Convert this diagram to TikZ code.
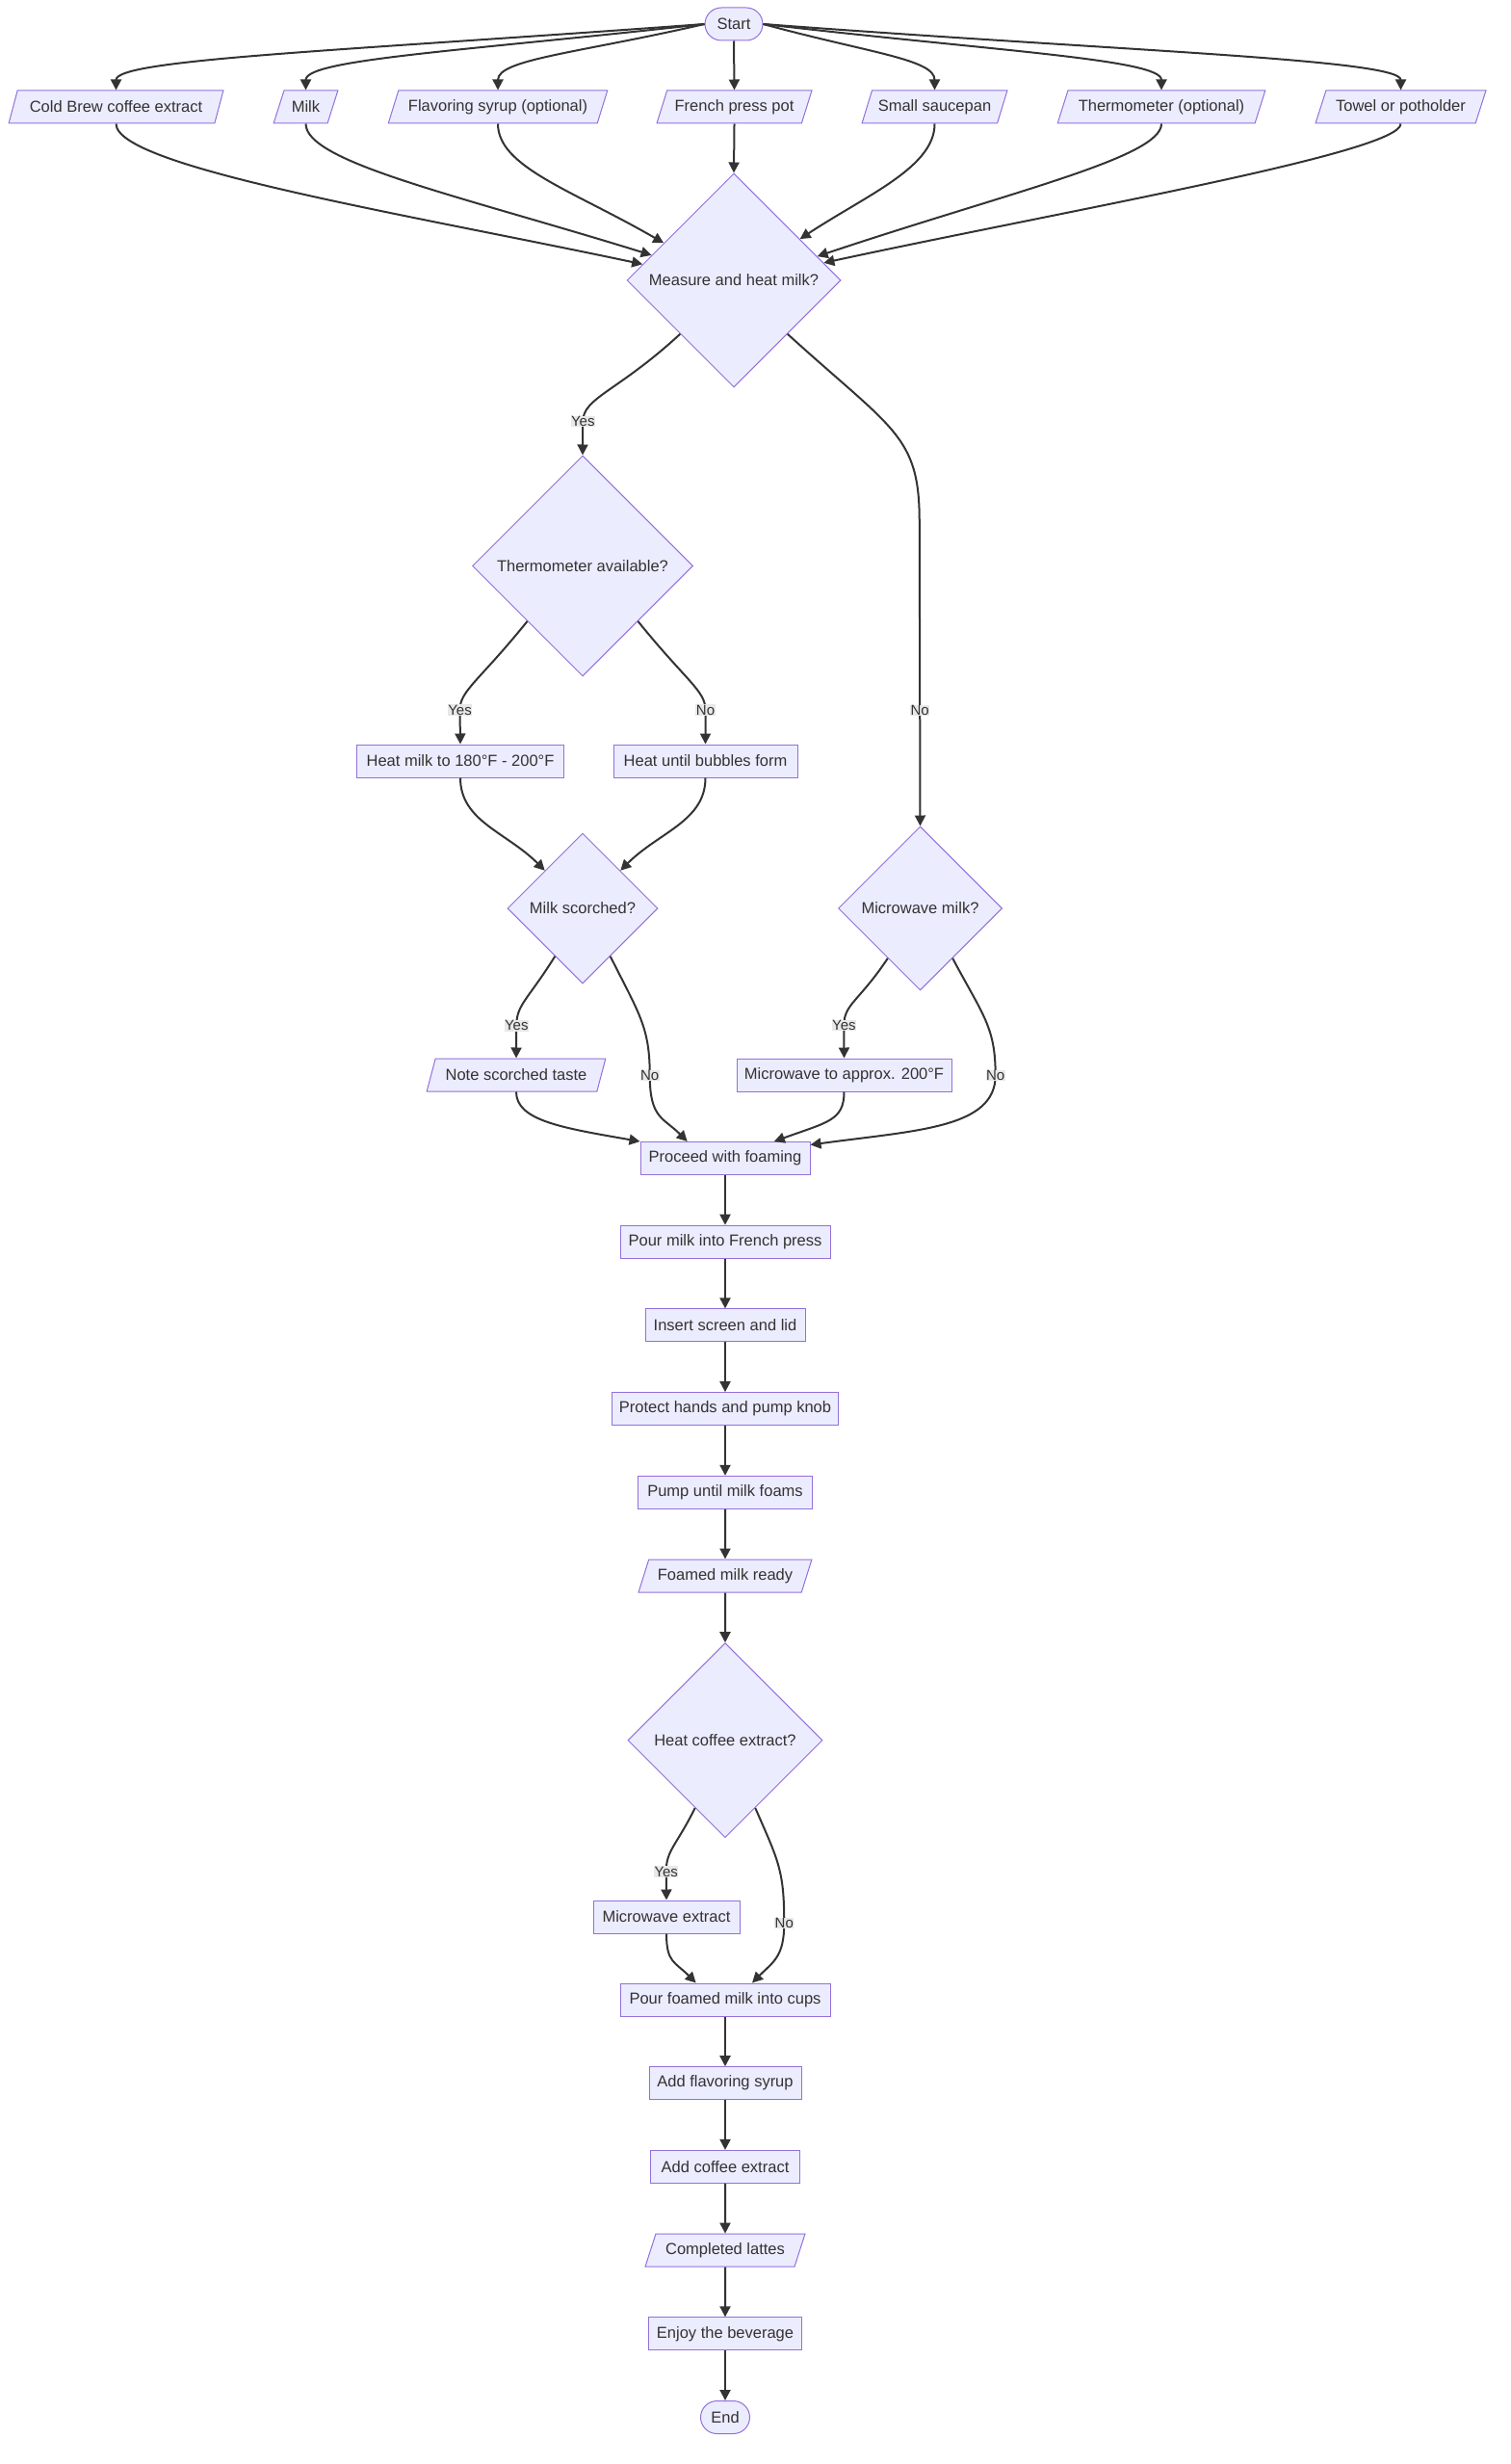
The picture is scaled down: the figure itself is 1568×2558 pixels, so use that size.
\documentclass[tikz,border=0pt]{standalone}
\usepackage{fontspec}
\setmainfont{Liberation Sans}
\usepackage{tikz}
\usetikzlibrary{positioning}
\usetikzlibrary{shapes.geometric}
\usetikzlibrary{arrows.meta}

\definecolor{boxfill}{HTML}{ECECFF}
\definecolor{boxline}{HTML}{9370DB}
\definecolor{ink}{HTML}{333333}
\definecolor{lblfill}{HTML}{E8E8E8}

\tikzset{
	base/.style={draw=boxline, fill=boxfill, line width=1pt, text=ink, font=\fontsize{16.5}{19}\selectfont, minimum height=34pt, inner sep=2pt},
	proc/.style={base, rectangle},
	term/.style={base, rectangle, rounded corners=17pt},
	io/.style={base, trapezium, trapezium left angle=63.4, trapezium right angle=116.6, trapezium stretches=true},
	decision/.style={base, diamond, aspect=1, inner sep=0pt},
	lbl/.style={fill=lblfill, text=ink, font=\fontsize{15}{17}\selectfont, inner sep=0.5pt},
	link/.style={draw=ink, line width=2pt, ->},
}

\begin{document}
\begin{tikzpicture}[x=1pt, y=1pt, node distance=51.7pt, >={Triangle[length=11pt, width=11pt]}]

	\useasboundingbox (0,0) rectangle (1568,-2558);

	\node (start) [term, minimum width=60pt] at (762,-25) {Start};

	\node (cold_brew) [io, minimum width=223pt] at (120.5,-111) {Cold Brew coffee extract};
	\node (milk) [io, minimum width=67pt] at (317.5,-111) {Milk};
	\node (syrup) [io, minimum width=228pt] at (517,-111) {Flavoring syrup (optional)};
	\node (press_pot) [io, minimum width=161pt] at (762.5,-111) {French press pot};
	\node (saucepan) [io, minimum width=151pt] at (970.5,-111) {Small saucepan};
	\node (thermo) [io, minimum width=216pt] at (1206,-111) {Thermometer (optional)};
	\node (towel) [io, minimum width=177pt] at (1454.5,-111) {Towel or potholder};

	\node (measure) [decision, minimum size=222pt] at (762,-291) {Measure and heat milk?};

	\node (thermo_q) [decision, minimum size=229pt] at (605,-587.5) {Thermometer available?};
	\node (heat_180) [proc, minimum width=215pt] at (478,-790) {Heat milk to 180°F - 200°F};
	\node (heat_bubbles) [proc, minimum width=191pt] at (732.5,-790) {Heat until bubbles form};
	\node (scorched_q) [decision, minimum size=156pt] at (605,-943) {Milk scorched?};
	\node (note_scorch) [io, minimum width=186pt] at (536,-1116) {Note scorched taste};

	\node (micro_q) [decision, minimum size=170pt] at (955.5,-943) {Microwave milk?};
	\node (micro_200) [proc, minimum width=223pt] at (876.5,-1116) {Microwave to approx. 200°F};

	\node (proceed) [proc, minimum width=176pt] at (753,-1202.5) {Proceed with foaming};
	\node (pour_milk) [proc, minimum width=218pt, below=of proceed] {Pour milk into French press};
	\node (insert_lid) [proc, minimum width=166pt, below=of pour_milk] {Insert screen and lid};
	\node (protect) [proc, minimum width=235pt, below=of insert_lid] {Protect hands and pump knob};
	\node (pump) [proc, minimum width=181pt, below=of protect] {Pump until milk foams};
	\node (foamed) [io, minimum width=180pt, below=of pump] {Foamed milk ready};
	\node (heat_q) [decision, minimum size=202pt, below=of foamed] {Heat coffee extract?};

	\node (micro_ext) [proc, minimum width=152pt] at (692,-1990) {Microwave extract};
	\node (pour_cups) [proc, minimum width=218pt] at (753,-2076) {Pour foamed milk into cups};
	\node (add_syrup) [proc, minimum width=158pt, below=of pour_cups] {Add flavoring syrup};
	\node (add_extract) [proc, minimum width=155pt, below=of add_syrup] {Add coffee extract};
	\node (lattes) [io, minimum width=166pt, below=of add_extract] {Completed lattes};
	\node (enjoy) [proc, minimum width=159pt, below=of lattes] {Enjoy the beverage};
	\node (stop) [term, minimum width=51pt, below=of enjoy] {End};

	\path[link] (start.west) .. controls +(-380,-28) and +(0,32) .. (cold_brew.north);
	\path[link] (start.west) .. controls +(-250,-28) and +(0,32) .. (milk.north);
	\path[link] (start.west) .. controls +(-130,-30) and +(0,32) .. (syrup.north);
	\path[link] (start.south) -- (press_pot.north);
	\path[link] (start.east) .. controls +(110,-30) and +(0,32) .. (saucepan.north);
	\path[link] (start.east) .. controls +(240,-28) and +(0,32) .. (thermo.north);
	\path[link] (start.east) .. controls +(370,-28) and +(0,32) .. (towel.north);

	\path[link] (cold_brew.south) .. controls +(0,-45) and +(-245,52) .. (measure.170);
	\path[link] (milk.south) .. controls +(0,-40) and +(-200,62) .. (measure.163);
	\path[link] (syrup.south) .. controls +(0,-45) and +(-95,55) .. (measure.152);
	\path[link] (press_pot.south) -- (measure.north);
	\path[link] (saucepan.south) .. controls +(0,-45) and +(70,46) .. (measure.32);
	\path[link] (thermo.south) .. controls +(0,-35) and +(200,67) .. (measure.16);
	\path[link] (towel.south) .. controls +(0,-30) and +(250,54) .. (measure.11);

	\path[link] (measure.south west) .. controls +(-65,-60) and +(0,25) .. ++(-101,-91) node[lbl] {Yes} -- (thermo_q.north);
	\path[link] (measure.south east) .. controls +(110,-100) and +(0,90) .. ++(137,-195) -- node[lbl, pos=0.62] {No} (micro_q.north);

	\path[link] (thermo_q.south west) .. controls +(-50,-62) and +(0,20) .. ++(-70,-92) node[lbl] {Yes} -- (heat_180.north);
	\path[link] (thermo_q.south east) .. controls +(50,-62) and +(0,20) .. ++(70,-92) node[lbl] {No} -- (heat_bubbles.north);
	\path[link] (heat_180.south) .. controls +(0,-45) and +(-40,40) .. (scorched_q.north west);
	\path[link] (heat_bubbles.south) .. controls +(0,-45) and +(40,40) .. (scorched_q.north east);

	\path[link] (scorched_q.240) .. controls +(-28,-45) and +(0,22) .. ++(-40,-72) node[lbl] {Yes} -- (note_scorch.north);
	\path[link] (scorched_q.300) .. controls +(30,-60) and +(0,50) .. ++(41,-123.5) node[lbl] {No} .. controls +(0,-45) and +(-25,25) .. (proceed.156);
	\path[link] (note_scorch.south) .. controls +(0,-30) and +(-80,14) .. (proceed.north west);

	\path[link] (micro_q.237) .. controls +(-30,-45) and +(0,22) .. ++(-45.5,-69.5) node[lbl] {Yes} -- (micro_200.north);
	\path[link] (micro_q.303) .. controls +(32,-60) and +(0,50) .. ++(44.5,-121.5) node[lbl] {No} .. controls +(0,-55) and +(110,15) .. (proceed.9);
	\path[link] (micro_200.south) .. controls +(0,-30) and +(55,20) .. (proceed.19);

	\path[link] (proceed) -- (pour_milk);
	\path[link] (pour_milk) -- (insert_lid);
	\path[link] (insert_lid) -- (protect);
	\path[link] (protect) -- (pump);
	\path[link] (pump) -- (foamed);
	\path[link] (foamed) -- (heat_q);

	\path[link] (heat_q.246) .. controls +(-20,-40) and +(0,22) .. ++(-30,-66) node[lbl] {Yes} -- (micro_ext.north);
	\path[link] (heat_q.294) .. controls +(24,-55) and +(0,55) .. ++(30,-119.5) node[lbl] {No} .. controls +(0,-35) and +(22,22) .. (pour_cups.32);
	\path[link] (micro_ext.south) .. controls +(0,-30) and +(-22,22) .. (pour_cups.150);

	\path[link] (pour_cups) -- (add_syrup);
	\path[link] (add_syrup) -- (add_extract);
	\path[link] (add_extract) -- (lattes);
	\path[link] (lattes) -- (enjoy);
	\path[link] (enjoy) -- (stop);

\end{tikzpicture}
\end{document}
